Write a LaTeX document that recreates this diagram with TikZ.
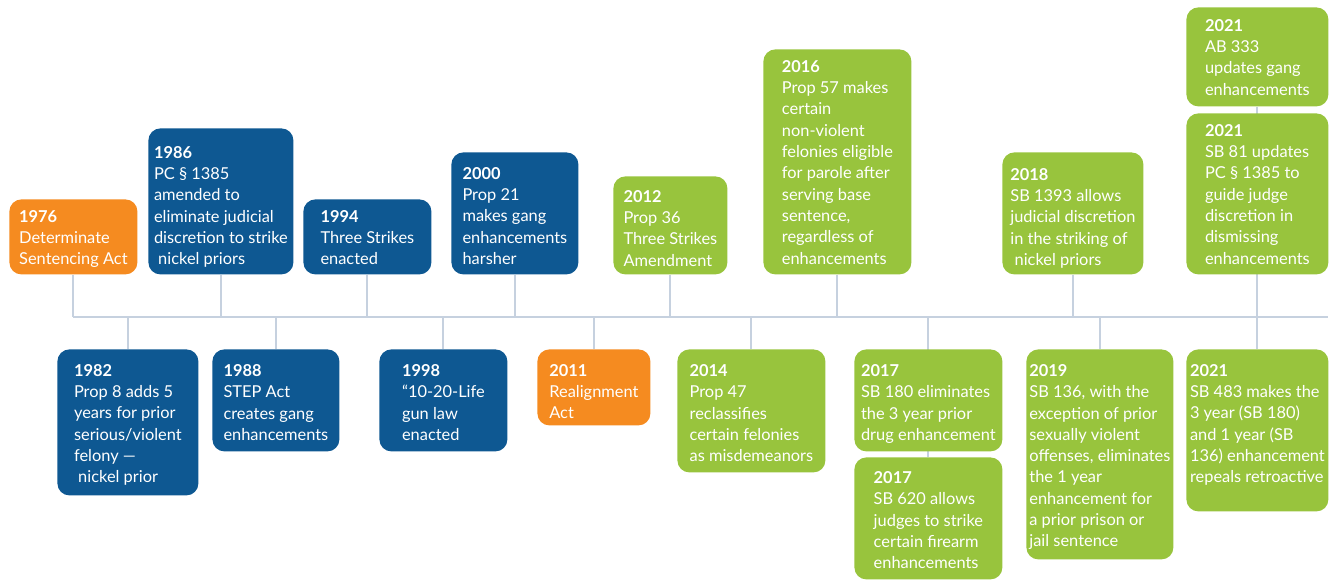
\documentclass[tikz,border=0pt]{standalone}
\usepackage{fontspec}
\setmainfont{Lato}
\usetikzlibrary{positioning,backgrounds}
\definecolor{evorange}{HTML}{F58B20}
\definecolor{evblue}{HTML}{0E5892}
\definecolor{evgreen}{HTML}{98C43D}
\definecolor{evline}{HTML}{C6D1DF}
\begin{document}
\begin{tikzpicture}[
  evbox/.style = {rectangle, rounded corners = 6pt, anchor = north west, inner sep = 0pt},
  orangebox/.style = {evbox, fill = evorange},
  bluebox/.style = {evbox, fill = evblue},
  greenbox/.style = {evbox, fill = evgreen},
  evtext/.style = {text = white, align = left, inner sep = 0pt, font = \fontsize{8.2}{10.65}\selectfont},
  stem/.style = {draw = evline, line width = 1pt},
  x = 0.5pt,
  y = -0.5pt
]
  \useasboundingbox (0, 0) rectangle (1338, 580);
  \coordinate (axisL) at (73, 317);
  \coordinate (axisR) at (1328, 317);

  % above the axis
  \node[orangebox, minimum width = 64pt, minimum height = 37.5pt] (b1976) at (9, 199) {};
  \node[bluebox, minimum width = 72.5pt, minimum height = 73pt] (b1986) at (148, 128) {};
  \node[bluebox, minimum width = 64pt, minimum height = 37.5pt] (b1994) at (303, 199) {};
  \node[bluebox, minimum width = 63.5pt, minimum height = 61pt] (b2000) at (451, 152) {};
  \node[greenbox, minimum width = 57pt, minimum height = 49pt] (b2012) at (613, 176) {};
  \node[greenbox, minimum width = 74pt, minimum height = 112.5pt] (b2016) at (763, 49) {};
  \node[greenbox, minimum width = 70.5pt, minimum height = 61pt] (b2018) at (1002, 152) {};
  \node[greenbox, minimum width = 71pt, minimum height = 49.5pt] (b2021a) at (1186, 7) {};
  \node[greenbox, minimum width = 71pt, minimum height = 80.5pt] (b2021b) at (1186, 113) {};

  % below the axis
  \node[bluebox, minimum width = 70.5pt, minimum height = 73pt] (b1982) at (57, 349) {};
  \node[bluebox, minimum width = 63.5pt, minimum height = 51pt] (b1988) at (212, 349) {};
  \node[bluebox, minimum width = 64pt, minimum height = 51pt] (b1998) at (379, 349) {};
  \node[orangebox, minimum width = 56.5pt, minimum height = 38pt] (b2011) at (537, 349) {};
  \node[greenbox, minimum width = 74pt, minimum height = 61.5pt] (b2014) at (677, 349) {};
  \node[greenbox, minimum width = 74pt, minimum height = 51pt] (b2017a) at (854, 349) {};
  \node[greenbox, minimum width = 74pt, minimum height = 61pt] (b2017b) at (854, 457) {};
  \node[greenbox, minimum width = 73.5pt, minimum height = 105pt] (b2019) at (1026, 349) {};
  \node[greenbox, minimum width = 71pt, minimum height = 81pt] (b2021c) at (1186, 349) {};

  \node[evtext, below = 5.5pt of b1976.north] (t1976) {\textbf{1976}\\Determinate\\Sentencing Act};
  \node[evtext, below = 9pt of b1986.north] (t1986) {\textbf{1986}\\PC § 1385\\amended to\\eliminate judicial\\discretion to strike\\~nickel priors};
  \node[evtext, below = 5.5pt of b1994.north] (t1994) {\textbf{1994}\\Three Strikes\\enacted};
  \node[evtext, below = 7.5pt of b2000.north] (t2000) {\textbf{2000}\\Prop 21\\makes gang\\enhancements\\harsher};
  \node[evtext, below = 7pt of b2012.north] (t2012) {\textbf{2012}\\Prop 36\\Three Strikes\\Amendment};
  \node[evtext, below = 5.5pt of b2016.north] (t2016) {\textbf{2016}\\Prop 57 makes\\certain\\non-violent\\felonies eligible\\for parole after\\serving base\\sentence,\\regardless of\\enhancements};
  \node[evtext, below = 8pt of b2018.north] (t2018) {\textbf{2018}\\SB 1393 allows\\judicial discretion\\in the striking of\\~nickel priors};
  \node[evtext, below = 6pt of b2021a.north] (t2021a) {\textbf{2021}\\AB 333\\updates gang\\enhancements};
  \node[evtext, below = 5.5pt of b2021b.north] (t2021b) {\textbf{2021}\\SB 81 updates\\PC § 1385 to\\guide judge\\discretion in\\dismissing\\enhancements};

  \node[evtext, below = 7.5pt of b1982.north] (t1982) {\textbf{1982}\\Prop 8 adds 5\\years for prior\\serious/violent\\felony —\\~nickel prior};
  \node[evtext, below = 7.5pt of b1988.north] (t1988) {\textbf{1988}\\STEP Act\\creates gang\\enhancements};
  \node[evtext, below = 7.5pt of b1998.north] (t1998) {\textbf{1998}\\“10-20-Life\\gun law\\enacted};
  \node[evtext, below = 7.5pt of b2011.north] (t2011) {\textbf{2011}\\Realignment\\Act};
  \node[evtext, below = 7.5pt of b2014.north] (t2014) {\textbf{2014}\\Prop 47\\reclassifies\\certain felonies\\as misdemeanors};
  \node[evtext, below = 7.5pt of b2017a.north] (t2017a) {\textbf{2017}\\SB 180 eliminates\\the 3 year prior\\drug enhancement};
  \node[evtext, below = 7pt of b2017b.north] (t2017b) {\textbf{2017}\\SB 620 allows\\judges to strike\\certain firearm\\enhancements};
  \node[evtext, below = 7.5pt of b2019.north] (t2019) {\textbf{2019}\\SB 136, with the\\exception of prior\\sexually violent\\offenses, eliminates\\the 1 year\\enhancement for\\a prior prison or\\jail sentence};
  \node[evtext, below = 7.5pt of b2021c.north] (t2021c) {\textbf{2021}\\SB 483 makes the\\3 year (SB 180)\\and 1 year (SB\\136) enhancement\\repeals retroactive};

  \begin{scope}[on background layer]
    \draw[stem] (axisL) -- (axisR);
    \draw[stem] (b1976.south) -- (b1976.south |- axisL);
    \draw[stem] (b1986.south) -- (b1986.south |- axisL);
    \draw[stem] (b1994.south) -- (b1994.south |- axisL);
    \draw[stem] (b2000.south) -- (b2000.south |- axisL);
    \draw[stem] (b2012.south) -- (b2012.south |- axisL);
    \draw[stem] (b2016.south) -- (b2016.south |- axisL);
    \draw[stem] (b2018.south) -- (b2018.south |- axisL);
    \draw[stem] (b2021a.south) -- (b2021a.south |- axisL);
    \draw[stem] (b1982.north) -- (b1982.north |- axisL);
    \draw[stem] (b1988.north) -- (b1988.north |- axisL);
    \draw[stem] (b1998.north) -- (b1998.north |- axisL);
    \draw[stem] (b2011.north) -- (b2011.north |- axisL);
    \draw[stem] (b2014.north) -- (b2014.north |- axisL);
    \draw[stem] (b2017b.north) -- (b2017b.north |- axisL);
    \draw[stem] (b2019.north) -- (b2019.north |- axisL);
    \draw[stem] (b2021c.north) -- (b2021c.north |- axisL);
  \end{scope}
\end{tikzpicture}
\end{document}
